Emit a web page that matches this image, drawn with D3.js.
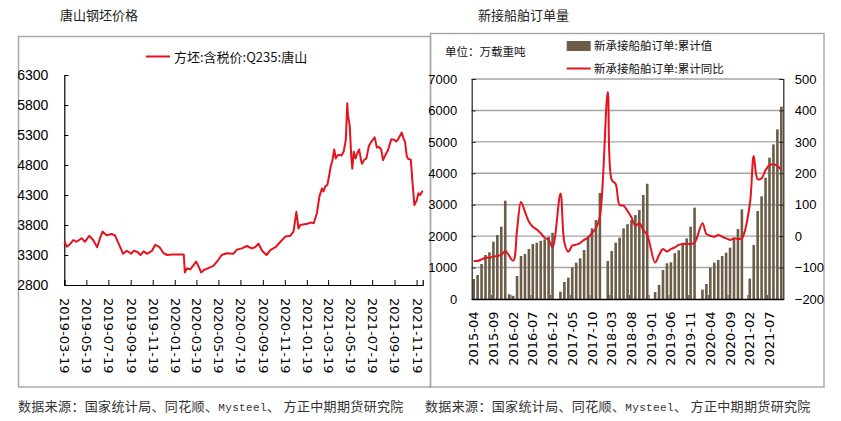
<!DOCTYPE html>
<html><head><meta charset="utf-8">
<script src="https://cdn.jsdelivr.net/npm/d3@7"></script>
<style>body{margin:0;background:#fff}svg{display:block}</style>
</head><body><svg id="c" width="841" height="421"></svg>
<script>
// ---------- Left chart data: 方坯:含税价:Q235:唐山 ----------
const priceDates = ["2019-03-19","2019-03-26","2019-04-04","2019-04-13","2019-04-22","2019-05-06","2019-05-15","2019-05-27","2019-06-07","2019-06-18","2019-06-26","2019-07-03","2019-07-14","2019-07-28","2019-08-06","2019-08-15","2019-08-29","2019-09-08","2019-09-20","2019-09-27","2019-10-08","2019-10-16","2019-10-25","2019-11-03","2019-11-17","2019-11-26","2019-12-08","2019-12-19","2019-12-29","2020-01-12","2020-02-13","2020-02-16","2020-02-22","2020-03-02","2020-03-11","2020-03-18","2020-03-25","2020-04-01","2020-04-09","2020-04-21","2020-05-05","2020-05-19","2020-05-28","2020-06-11","2020-06-29","2020-07-09","2020-07-23","2020-08-06","2020-08-19","2020-08-29","2020-09-07","2020-09-17","2020-09-29","2020-10-10","2020-10-24","2020-11-07","2020-11-21","2020-12-04","2020-12-13","2020-12-21","2020-12-27","2021-01-01","2021-01-20","2021-01-29","2021-02-07","2021-02-16","2021-02-23","2021-03-02","2021-03-06","2021-03-11","2021-03-17","2021-03-22","2021-03-26","2021-03-31","2021-04-05","2021-04-09","2021-04-16","2021-04-25","2021-05-01","2021-05-07","2021-05-11","2021-05-13","2021-05-18","2021-05-22","2021-05-25","2021-05-29","2021-06-03","2021-06-08","2021-06-13","2021-06-18","2021-06-21","2021-06-26","2021-07-03","2021-07-10","2021-07-17","2021-07-26","2021-08-01","2021-08-07","2021-08-13","2021-08-18","2021-08-25","2021-09-01","2021-09-05","2021-09-10","2021-09-18","2021-09-24","2021-09-30","2021-10-09","2021-10-14","2021-10-18","2021-10-23","2021-10-27","2021-11-03","2021-11-08","2021-11-13","2021-11-20","2021-11-24","2021-11-29","2021-12-06"];
const priceValues = [3520,3440,3480,3550,3520,3580,3520,3620,3550,3430,3580,3690,3630,3650,3630,3510,3320,3370,3320,3370,3350,3300,3360,3320,3370,3470,3430,3330,3300,3310,3310,3010,3080,3060,3130,3190,3110,3010,3050,3080,3120,3220,3300,3330,3320,3390,3410,3450,3410,3430,3490,3370,3300,3380,3430,3520,3610,3620,3690,4020,3740,3800,3820,3840,3830,4000,4280,4410,4360,4440,4470,4630,4770,4880,5060,4910,4970,4960,5020,5220,5830,5630,5440,4940,4740,5020,4910,5000,5060,4880,4820,4880,4910,5120,5190,5260,5090,5100,5060,4880,4970,5050,5130,5230,5220,5190,5240,5340,5240,5190,4940,4900,4890,4490,4130,4220,4330,4300,4370];
const priceDomain = ["2019-03-19","2021-12-06"];
const priceXTicks = ["2019-03-19","2019-05-19","2019-07-19","2019-09-19","2019-11-19","2020-01-19","2020-03-19","2020-05-19","2020-07-19","2020-09-19","2020-11-19","2021-01-19","2021-03-19","2021-05-19","2021-07-19","2021-09-19","2021-11-19"];
const priceYTicks = [2800,3300,3800,4300,4800,5300,5800,6300];

// ---------- Right chart data: 新接船舶订单 ----------
const orderMonths = ["2015-04","2015-05","2015-06","2015-07","2015-08","2015-09","2015-10","2015-11","2015-12",
"2016-01","2016-02","2016-03","2016-04","2016-05","2016-06","2016-07","2016-08","2016-09","2016-10","2016-11","2016-12",
"2017-01","2017-02","2017-03","2017-04","2017-05","2017-06","2017-07","2017-08","2017-09","2017-10","2017-11","2017-12",
"2018-01","2018-02","2018-03","2018-04","2018-05","2018-06","2018-07","2018-08","2018-09","2018-10","2018-11","2018-12",
"2019-01","2019-02","2019-03","2019-04","2019-05","2019-06","2019-07","2019-08","2019-09","2019-10","2019-11","2019-12",
"2020-01","2020-02","2020-03","2020-04","2020-05","2020-06","2020-07","2020-08","2020-09","2020-10","2020-11","2020-12",
"2021-01","2021-02","2021-03","2021-04","2021-05","2021-06","2021-07","2021-08","2021-09","2021-10"];
const orderCumulative = [636,763,1113,1400,1485,1824,2036,2301,3126,
150,100,732,1368,1432,1591,1750,1790,1850,1900,1980,2107,
null,233,540,680,1000,1156,1294,1559,1990,2250,2513,3373,
null,1209,1527,1792,1951,2248,2380,2513,2672,2831,3309,3667,
null,220,445,923,1135,1166,1460,1550,1790,1930,2300,2907,
null,300,477,997,1156,1241,1368,1474,1633,1909,2227,2853,
null,650,1720,2800,3266,3860,4496,4920,5398,6119];
const orderYoY = [-79,-79,-74,-69,-69,-65,-63,-60,-47,
null,-78,20,109,78,46,30,21,9,-5,-12,-35,
null,136,-20,-50,-30,-27,-22,-12,-5,10,25,62,
null,459,179,166,99,97,80,60,33,41,19,4,
null,-84,-60,-41,-49,-41,-36,-28,-25,-25,-25,-21,
null,41,7,1,-2,4,-2,-7,-12,-7,-9,-7,
null,100,255,181,184,210,226,229,223,210];
const orderLeftTicks = [0,1000,2000,3000,4000,5000,6000,7000];
const orderRightTicks = [-200,-100,0,100,200,300,400,500];
const orderXTickEvery = 5;

// ---------- Drawing ----------
const svg = d3.select("#c");
const CJK = "'Noto Sans CJK SC','Noto Sans',sans-serif";
const NARROW = "'Liberation Sans Narrow','Liberation Sans',Arial,sans-serif";
const DV = "'DejaVu Sans',sans-serif";
const RED = "#e5131d";
const BAR = "#6b5d47";
const parse = d3.timeParse("%Y-%m-%d");

// frames
svg.append("rect").attr("x",18.5).attr("y",36.5).attr("width",412).attr("height",350.5)
  .attr("fill","none").attr("stroke","#a6a6a6").attr("stroke-width",1.4);
svg.append("rect").attr("x",430.5).attr("y",33.5).attr("width",393.5).attr("height",353.5)
  .attr("fill","none").attr("stroke","#a6a6a6").attr("stroke-width",1.4);

// titles
svg.append("text").attr("x",60).attr("y",20).attr("font-family",CJK).attr("font-size",13).attr("fill","#222").text("唐山钢坯价格");
svg.append("text").attr("x",478).attr("y",20).attr("font-family",CJK).attr("font-size",13).attr("fill","#222").text("新接船舶订单量");

// footers
function footer(x){
  const t = svg.append("text").attr("x",x).attr("y",410.5).attr("font-family",CJK).attr("font-size",13)
    .attr("letter-spacing",0.35).attr("fill","#333");
  t.append("tspan").text("数据来源：国家统计局、同花顺、");
  t.append("tspan").attr("font-family","'Liberation Mono',monospace").attr("font-size",11).text("Mysteel");
  t.append("tspan").text("、 方正中期期货研究院");
}
footer(18); footer(425);

// ===== Left chart =====
const xP = d3.scaleTime().domain(priceDomain.map(parse)).range([64.3, 422.7]);
const yP = d3.scaleLinear().domain([2800, 6300]).range([285, 75]);

const gyP = svg.append("g").attr("transform","translate(64.3,0)")
  .call(d3.axisLeft(yP).tickValues(priceYTicks).tickSize(-4).tickPadding(16).tickFormat(d3.format("d")));
gyP.select(".domain").attr("stroke","#000").attr("stroke-width",1.2);
gyP.selectAll(".tick line").attr("stroke","#000");
gyP.selectAll("text").attr("font-family",NARROW).attr("font-size",14).attr("fill","#000");

const gxP = svg.append("g").attr("transform","translate(0,285)")
  .call(d3.axisBottom(xP).tickValues(priceXTicks.map(parse)).tickSize(-5).tickFormat(d3.timeFormat("%Y-%m-%d")));
gxP.select(".domain").attr("stroke","#000").attr("stroke-width",1.2);
gxP.selectAll(".tick line").attr("stroke","#000");
gxP.selectAll("text").attr("font-family",DV).attr("font-size",13).attr("fill","#000")
  .attr("transform","rotate(90)").attr("x",13).attr("y",0).attr("dy","0.35em").attr("text-anchor","start");

const priceData = priceDates.map((d,i)=>({d:parse(d), v:priceValues[i]}));
svg.append("path").datum(priceData)
  .attr("d", d3.line().x(d=>xP(d.d)).y(d=>yP(d.v)))
  .attr("fill","none").attr("stroke",RED).attr("stroke-width",2).attr("stroke-linejoin","round");

// legend left
svg.append("line").attr("x1",146).attr("x2",170).attr("y1",56.5).attr("y2",56.5).attr("stroke",RED).attr("stroke-width",2);
svg.append("text").attr("x",174).attr("y",61.5).attr("font-family",CJK).attr("font-size",13).attr("fill","#111").text("方坯:含税价:Q235:唐山");

// ===== Right chart =====
const xO = d3.scaleBand().domain(orderMonths).range([471.7, 783.3]).paddingInner(0.34).paddingOuter(0.17);
const xOb = d3.scaleBand().domain(orderMonths).range([471.7, 783.3]);
const yL = d3.scaleLinear().domain([0,7000]).range([299,79]);
const yR = d3.scaleLinear().domain([-200,500]).range([299,79]);

// gridlines
svg.append("g").selectAll("line").data(orderLeftTicks.filter(v=>v>0)).join("line")
  .attr("x1",471.7).attr("x2",783.3).attr("y1",d=>yL(d)).attr("y2",d=>yL(d))
  .attr("stroke","#a6a6a6").attr("stroke-width",1.4);

// bars
svg.append("g").selectAll("rect").data(orderMonths.map((m,i)=>({m, v:orderCumulative[i]})).filter(d=>d.v!=null)).join("rect")
  .attr("x",d=>xO(d.m)).attr("width",xO.bandwidth())
  .attr("y",d=>yL(d.v)).attr("height",d=>yL(0)-yL(d.v)).attr("fill",BAR);

// axes
const gyL = svg.append("g").attr("transform","translate(471.7,0)")
  .call(d3.axisLeft(yL).tickValues(orderLeftTicks).tickSize(-4).tickPadding(14.5).tickFormat(d3.format("d")));
gyL.select(".domain").attr("stroke","#222").attr("stroke-width",1.2);
gyL.selectAll(".tick line").attr("stroke","#222");
gyL.selectAll("text").attr("font-family",NARROW).attr("font-size",13).attr("fill","#000");

const gyR = svg.append("g").attr("transform","translate(783.3,0)")
  .call(d3.axisRight(yR).tickValues(orderRightTicks).tickSize(-4).tickPadding(11.5).tickFormat(d3.format("d")));
gyR.select(".domain").attr("stroke","#222").attr("stroke-width",1.2);
gyR.selectAll(".tick line").attr("stroke","#222");
gyR.selectAll("text").attr("font-family",NARROW).attr("font-size",13).attr("fill","#000");

const xLabelMonths = orderMonths.filter((m,i)=>i%orderXTickEvery===0);
const gxO = svg.append("g").attr("transform","translate(0,299)")
  .call(d3.axisBottom(xOb).tickValues(xLabelMonths).tickSize(0));
gxO.select(".domain").attr("stroke","#000").attr("stroke-width",1.4);
gxO.selectAll("text").attr("font-family",DV).attr("font-size",13).attr("fill","#000")
  .attr("transform","rotate(-90)").attr("x",-12.5).attr("y",0).attr("dy","0.35em").attr("text-anchor","end");
// boundary tick marks every 5 categories
const boundaryMonths = orderMonths.filter((m,i)=>i>0 && i%orderXTickEvery===0);
svg.append("g").selectAll("line").data(boundaryMonths).join("line")
  .attr("x1",d=>xOb(d)).attr("x2",d=>xOb(d)).attr("y1",299).attr("y2",295)
  .attr("stroke","#555").attr("stroke-width",1);

// YoY line
const yoyData = orderMonths.map((m,i)=>({m, v:orderYoY[i]})).filter(d=>d.v!=null);
svg.append("path").datum(yoyData)
  .attr("d", d3.line().curve(d3.curveCatmullRom.alpha(0.5)).x(d=>xOb(d.m)+xOb.bandwidth()/2).y(d=>yR(d.v)))
  .attr("fill","none").attr("stroke",RED).attr("stroke-width",2);

// legend right
svg.append("rect").attr("x",566.7).attr("y",41).attr("width",24).attr("height",10).attr("fill",BAR);
svg.append("text").attr("x",594).attr("y",50).attr("font-family",CJK).attr("font-size",11.5).attr("fill","#111").text("新承接船舶订单:累计值");
svg.append("line").attr("x1",566.7).attr("x2",590.7).attr("y1",68.5).attr("y2",68.5).attr("stroke",RED).attr("stroke-width",2);
svg.append("text").attr("x",594).attr("y",72.7).attr("font-family",CJK).attr("font-size",11.5).attr("fill","#111").text("新承接船舶订单:累计同比");
svg.append("text").attr("x",445).attr("y",56).attr("font-family",CJK).attr("font-size",11.5).attr("fill","#111").text("单位：万载重吨");
</script></body></html>
